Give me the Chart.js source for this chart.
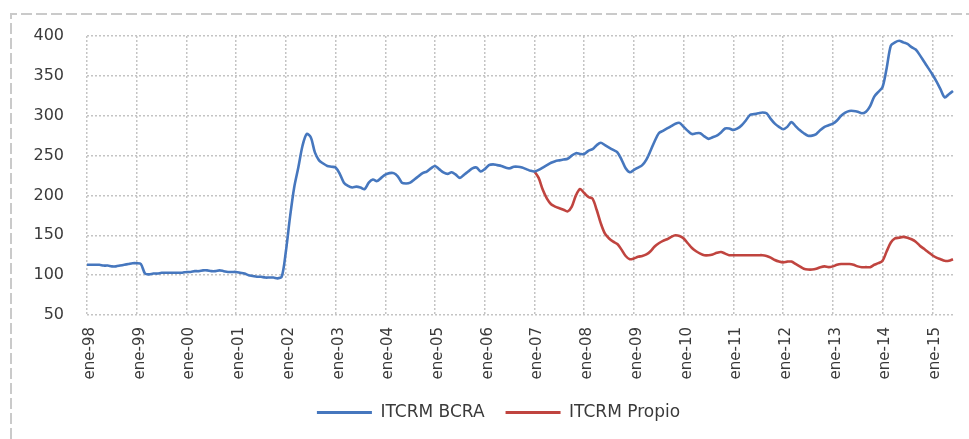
<!DOCTYPE html>
<html>
<head>
<meta charset="utf-8">
<script src="https://cdn.jsdelivr.net/npm/chart.js@4/dist/chart.umd.min.js"></script>
<style>
  html, body { margin: 0; padding: 0; background: #fff; }
  #wrap { width: 969px; height: 439px; position: relative; }
</style>
</head>
<body>
<div id="wrap"><canvas id="chart"></canvas></div>
<script>
const MONTHS = ['ene', 'feb', 'mar', 'abr', 'may', 'jun', 'jul', 'ago', 'sep', 'oct', 'nov', 'dic'];
const YEARS = ['98', '99', '00', '01', '02', '03', '04', '05', '06', '07', '08', '09', '10', '11', '12', '13', '14', '15'];
const Y_TICKS = [50, 100, 150, 200, 250, 300, 350, 400];

// ene-98 .. jun-15, monthly
const bcra = [
  113, 113, 113, 113, 112, 112, 111, 111, 112, 113, 114, 115,
  115, 114, 102, 101, 102, 102, 103, 103, 103, 103, 103, 103,
  104, 104, 105, 105, 106, 106, 105, 105, 106, 105, 104, 104,
  104, 103, 102, 100, 99, 98, 98, 97, 97, 97, 96, 98,
  130, 173, 210, 235, 262, 277, 273, 254, 244, 240, 237, 236,
  235, 227, 216, 212, 210, 211, 210, 208, 216, 220, 218, 222,
  226, 228, 228, 224, 216, 215, 216, 220, 224, 228, 230, 234,
  237, 233, 229, 227, 229, 226, 222, 226, 230, 234, 235, 230,
  233, 238, 239, 238, 237, 235, 234, 236, 236, 235, 233, 231,
  230, 232, 235, 238, 241, 243, 244, 245, 246, 250, 253, 252,
  252, 256, 258, 263, 266, 263, 260, 257, 254, 245, 234, 229,
  232, 235, 238, 245, 256, 268, 278, 281, 284, 287, 290, 291,
  286, 281, 277, 278, 278, 274, 271, 273, 275, 279, 284, 284,
  282, 284, 288, 294, 301, 302, 303, 304, 303, 296, 290, 286,
  283, 286, 292, 287, 282, 278, 275, 275, 277, 282, 286, 288,
  290, 294, 300, 304, 306, 306, 305, 303, 305, 312, 324, 330,
  336, 360, 388, 392, 394, 392, 390, 386, 383, 376, 368, 360,
  352, 343, 333, 323, 327, 331
];

const propio = [
  null, null, null, null, null, null, null, null, null, null, null, null,
  null, null, null, null, null, null, null, null, null, null, null, null,
  null, null, null, null, null, null, null, null, null, null, null, null,
  null, null, null, null, null, null, null, null, null, null, null, null,
  null, null, null, null, null, null, null, null, null, null, null, null,
  null, null, null, null, null, null, null, null, null, null, null, null,
  null, null, null, null, null, null, null, null, null, null, null, null,
  null, null, null, null, null, null, null, null, null, null, null, null,
  null, null, null, null, null, null, null, null, null, null, null, null,
  230, 222, 207, 196, 189, 186, 184, 182, 180, 186, 200, 208,
  203, 198, 196, 182, 165, 152, 146, 142, 139, 132, 124, 120,
  121, 123, 124, 126, 130, 136, 140, 143, 145, 148, 150, 149,
  146, 140, 134, 130, 127, 125, 125, 126, 128, 129, 127, 125,
  125, 125, 125, 125, 125, 125, 125, 125, 124, 122, 119, 117,
  116, 117, 117, 114, 111, 108, 107, 107, 108, 110, 111, 110,
  111, 113, 114, 114, 114, 113, 111, 110, 110, 110, 113, 115,
  118, 130, 141, 146, 147, 148, 147, 145, 142, 137, 133, 129,
  125, 122, 120, 118, 118, 120
];

const labels = [];
YEARS.forEach(y => MONTHS.forEach(m => labels.push(m + '-' + y)));
labels.length = bcra.length;

const GRID = '#c4c4c4';
const TEXT = '#3a3a3a';
const FONT = 'DejaVu Sans';

// dashed outer frame (top and left)
const frame = {
  id: 'frame',
  afterDraw(chart) {
    const c = chart.ctx;
    c.save();
    c.strokeStyle = '#cacaca';
    c.lineWidth = 2;
    c.setLineDash([11, 4]);
    c.beginPath();
    c.moveTo(11, 439);
    c.lineTo(11, 14);
    c.lineTo(969, 14);
    c.stroke();
    c.restore();
  }
};

// nudge legend a bit to the right, like the original
const legendShift = {
  id: 'legendShift',
  afterLayout(chart) {
    chart.legend.left += 22;
    chart.legend.right += 22;
  }
};

new Chart(document.getElementById('chart'), {
  type: 'line',
  data: {
    labels: labels,
    datasets: [
      { label: 'ITCRM BCRA', data: bcra, borderColor: '#4677be', backgroundColor: '#4677be',
        borderWidth: 2.6, pointRadius: 0, tension: 0.3 },
      { label: 'ITCRM Propio', data: propio, borderColor: '#c0443f', backgroundColor: '#c0443f',
        borderWidth: 2.6, pointRadius: 0, tension: 0.3 }
    ]
  },
  options: {
    responsive: true,
    maintainAspectRatio: false,
    animation: false,
    layout: { padding: { top: 36, left: 0, right: 16, bottom: 8 } },
    plugins: {
      tooltip: { enabled: false },
      legend: {
        position: 'bottom',
        labels: {
          boxWidth: 55, boxHeight: 3, padding: 21, color: TEXT,
          font: { family: FONT, size: 17 },
          generateLabels(chart) {
            return Chart.defaults.plugins.legend.labels.generateLabels(chart)
              .map(l => Object.assign(l, { lineWidth: 0 }));
          }
        }
      }
    },
    scales: {
      x: {
        offset: false,
        afterFit(s) { s.height = 68; },
        grid: { color: GRID, lineWidth: 1.5, drawTicks: false },
        border: { display: false, dash: [2, 2] },
        ticks: {
          autoSkip: false, maxRotation: 90, minRotation: 90, padding: 12, labelOffset: 3,
          color: TEXT, font: { family: FONT, size: 15 },
          callback(v) {
            const l = this.getLabelForValue(v);
            return l.startsWith('ene') ? l : null;
          }
        }
      },
      y: {
        min: 50, max: 400,
        afterFit(s) { s.width = 87; },
        afterBuildTicks(s) { s.ticks = Y_TICKS.map(v => ({ value: v })); },
        grid: { color: GRID, lineWidth: 1.5, drawTicks: false },
        border: { display: false, dash: [2, 2] },
        ticks: { padding: 23, color: TEXT, font: { family: FONT, size: 16 } }
      }
    }
  },
  plugins: [frame, legendShift]
});
</script>
</body>
</html>
